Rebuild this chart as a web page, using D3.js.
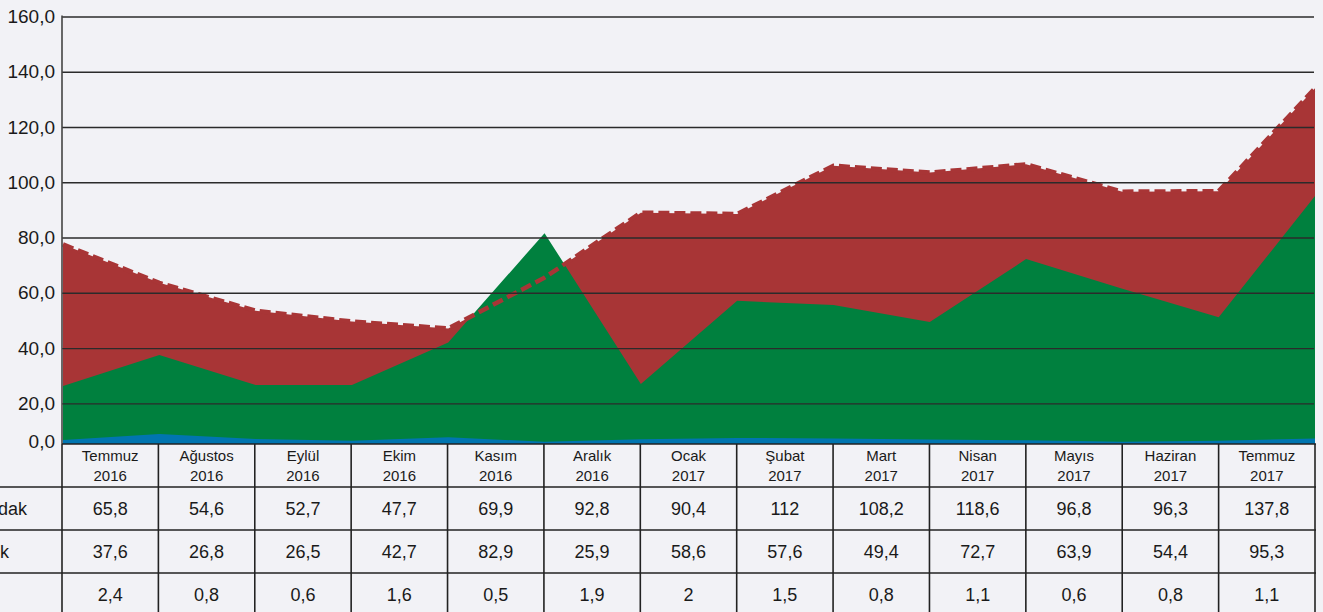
<!DOCTYPE html>
<html>
<head>
<meta charset="utf-8">
<script src="https://cdn.jsdelivr.net/npm/d3@7"></script>
<style>
  body { margin: 0; background: #f2f2f6; }
  svg { display: block; font-family: "Liberation Sans", Arial, sans-serif; }
</style>
</head>
<body>
<svg id="chart" width="1323" height="612"></svg>
<script>
// chart points (14, the first one has no column in the table)
var chartPeriods = ["Haziran 2016", "Temmuz 2016", "Ağustos 2016", "Eylül 2016", "Ekim 2016", "Kasım 2016", "Aralık 2016",
                    "Ocak 2017", "Şubat 2017", "Mart 2017", "Nisan 2017", "Mayıs 2017", "Haziran 2017", "Temmuz 2017"];
var redSeries   = [77.5, 63.6, 53.5, 49.6, 47.1, 65.5, 89.0, 88.5, 106.0, 103.5, 106.5, 96.6, 96.8, 134.0];
var greenSeries = [26.3, 37.5, 26.6, 26.6, 42.0, 81.6, 27.0, 57.1, 55.6, 49.4, 72.2, 61.5, 51.2, 95.0];
var blueSeries  = [6.7, 8.9, 7.1, 6.5, 7.7, 6.1, 7.0, 7.5, 7.3, 6.9, 6.6, 6.1, 6.5, 7.3];

// y ticks
var yTicks = [0, 20, 40, 60, 80, 100, 120, 140, 160];

// table under the chart
var tableMonths = ["Temmuz", "Ağustos", "Eylül", "Ekim", "Kasım", "Aralık", "Ocak", "Şubat", "Mart", "Nisan", "Mayıs", "Haziran", "Temmuz"];
var tableYears  = ["2016", "2016", "2016", "2016", "2016", "2016", "2017", "2017", "2017", "2017", "2017", "2017", "2017"];
var rowLabels = ["dak", "k", ""];
var row1 = [65.8, 54.6, 52.7, 47.7, 69.9, 92.8, 90.4, 112, 108.2, 118.6, 96.8, 96.3, 137.8];
var row2 = [37.6, 26.8, 26.5, 42.7, 82.9, 25.9, 58.6, 57.6, 49.4, 72.7, 63.9, 54.4, 95.3];
var row3 = [2.4, 0.8, 0.6, 1.6, 0.5, 1.9, 2, 1.5, 0.8, 1.1, 0.6, 0.8, 1.1];

var RED = "#a83536", GREEN = "#00803e", BLUE = "#0075b0", BG = "#f2f2f6";

var svg = d3.select("#chart");
var plotLeft = 62, plotRight = 1314, plotTop = 16.5, plotBottom = 444;

var x = d3.scalePoint().domain(chartPeriods).range([plotLeft + 1, plotRight + 1]);
var y = d3.scaleLinear().domain([0, 160]).range([458.6, plotTop]);

svg.append("defs").append("clipPath").attr("id", "plotClip")
  .append("rect").attr("x", plotLeft).attr("y", 0).attr("width", plotRight - plotLeft + 2).attr("height", plotBottom);

var plot = svg.append("g").attr("clip-path", "url(#plotClip)");

var area = d3.area()
  .x(function(d, i) { return x(chartPeriods[i]); })
  .y0(y(0))
  .y1(function(d) { return y(d); });

plot.append("path").datum(redSeries).attr("fill", RED).attr("d", area);
plot.append("path").datum(greenSeries).attr("fill", GREEN).attr("d", area);

// grid lines over the areas
var yAxis = svg.append("g")
  .attr("transform", "translate(" + plotLeft + ",0)")
  .call(d3.axisLeft(y).tickValues(yTicks).tickSize(-(plotRight - plotLeft)).tickPadding(8)
        .tickFormat(function(d) { return d3.format(".1f")(d).replace(".", ","); }));
yAxis.select(".domain").remove();
yAxis.selectAll(".tick line").attr("stroke", "#2b2b2b").attr("stroke-width", 1.4)
  .filter(function(d) { return d === 0; }).remove();
yAxis.selectAll(".tick text").attr("font-size", 19).attr("fill", "#1a1a1a").attr("x", -7);
// the zero label sits on the table edge
yAxis.selectAll(".tick").filter(function(d) { return d === 0; }).select("text").attr("dy", "-0.6em");

// red dashed edge on top
var redLine = d3.line()
  .x(function(d, i) { return x(chartPeriods[i]); })
  .y(function(d) { return y(d); });
plot.append("path").datum(redSeries)
  .attr("fill", "none").attr("stroke", RED).attr("stroke-width", 4.5)
  .attr("stroke-dasharray", "11,5").attr("d", redLine);

plot.append("path").datum(blueSeries).attr("fill", BLUE).attr("d", area);

// left axis line
svg.append("line").attr("x1", plotLeft).attr("x2", plotLeft).attr("y1", plotTop - 1).attr("y2", plotBottom)
  .attr("stroke", "#444").attr("stroke-width", 1.6);

// table
var col = d3.scaleBand().domain(d3.range(tableMonths.length)).range([plotLeft, plotRight + 1]);
var rowY = [444, 487, 530, 573, 616];
var tbl = svg.append("g");

tbl.append("rect").attr("x", plotLeft).attr("y", rowY[0]).attr("width", plotRight + 1 - plotLeft).attr("height", rowY[1] - rowY[0])
  .attr("fill", BG);

var head = tbl.selectAll("text.head").data(tableMonths).enter().append("text")
  .attr("class", "head")
  .attr("text-anchor", "middle").attr("font-size", 15).attr("fill", "#1a1a1a")
  .attr("x", function(d, i) { return col(i) + col.bandwidth() / 2; });
head.append("tspan").attr("y", 461).text(function(d) { return d; });
head.append("tspan").attr("x", function(d, i) { return col(i) + col.bandwidth() / 2; })
  .attr("y", 481).text(function(d, i) { return tableYears[i]; });

var fmt = function(v) { return String(v).replace(".", ","); };
[row1, row2, row3].forEach(function(row, r) {
  var cy = (rowY[r + 1] + rowY[r + 2]) / 2;
  tbl.selectAll("text.r" + r).data(row).enter().append("text")
    .attr("class", "r" + r)
    .attr("text-anchor", "middle").attr("font-size", 18).attr("fill", "#1a1a1a")
    .attr("x", function(d, i) { return col(i) + col.bandwidth() / 2; })
    .attr("y", cy + 6)
    .text(fmt);
  tbl.append("text").attr("text-anchor", "end").attr("x", rowLabels[r] == "dak" ? 27 : 9)
    .attr("y", cy + 6).attr("font-size", 18).attr("fill", "#1a1a1a").text(rowLabels[r]);
});

// table lines
tbl.append("line").attr("x1", plotLeft).attr("x2", plotRight + 2).attr("y1", rowY[0]).attr("y2", rowY[0]);
rowY.slice(1, 4).forEach(function(yy) {
  tbl.append("line").attr("x1", 0).attr("x2", plotRight + 2).attr("y1", yy).attr("y2", yy);
});
d3.range(tableMonths.length + 1).forEach(function(i) {
  var xx = i < tableMonths.length ? col(i) : plotRight + 1;
  tbl.append("line").attr("x1", xx).attr("x2", xx).attr("y1", rowY[0]).attr("y2", 612);
});
tbl.selectAll("line").attr("stroke", "#222").attr("stroke-width", 1.6);
</script>
</body>
</html>
